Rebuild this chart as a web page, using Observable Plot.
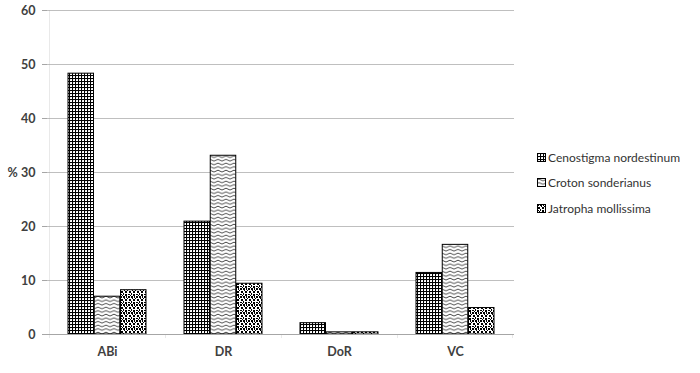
<!DOCTYPE html>
<html>
<head>
<meta charset="utf-8">
<script src="https://cdn.jsdelivr.net/npm/d3@7"></script>
<script src="https://cdn.jsdelivr.net/npm/@observablehq/plot@0.6"></script>
<style>
  body { margin: 0; background: #fff; }
  #wrap { position: relative; width: 700px; height: 373px; font-family: Lato, "Open Sans", sans-serif; }
  #legend { position: absolute; left: 537px; top: 149px; font-size: 12px; color: #333; }
  #legend .item { display: flex; align-items: center; height: 16px; margin-bottom: 9.5px; white-space: nowrap; }
  #legend svg { margin-right: 2px; }
</style>
</head>
<body>
<div id="wrap">
<svg width="0" height="0" style="position:absolute">
  <defs>
    <pattern id="p-ceno" width="3" height="3" patternUnits="userSpaceOnUse">
      <rect width="3" height="3" fill="#fff"/>
      <rect width="3" height="1" fill="#000"/>
      <rect width="1" height="3" fill="#000"/>
      <rect x="1.6" y="1.6" width="0.4" height="0.4" fill="#555"/>
    </pattern>
    <pattern id="p-croton" width="8" height="3.6" patternUnits="userSpaceOnUse">
      <rect width="8" height="3.6" fill="#fff"/>
      <path d="M0,1.9 Q2,0.2 4,1.9 T8,1.9" fill="none" stroke="#333" stroke-width="0.9"/>
    </pattern>
    <pattern id="p-jatro" width="8" height="8" patternUnits="userSpaceOnUse">
      <rect width="8" height="8" fill="#fff"/>
      <rect x="0" y="0" width="2" height="2" fill="#000"/>
      <rect x="3" y="0" width="2" height="2" fill="#000"/>
      <rect x="6" y="0" width="1" height="2" fill="#000"/>
      <rect x="1" y="3" width="2" height="2" fill="#000"/>
      <rect x="4" y="2" width="1" height="1" fill="#000"/>
      <rect x="5" y="3" width="2" height="2" fill="#000"/>
      <rect x="0" y="6" width="2" height="1" fill="#000"/>
      <rect x="3" y="5" width="1" height="2" fill="#000"/>
      <rect x="5" y="6" width="2" height="2" fill="#000"/>
      <rect x="7" y="2" width="1" height="1" fill="#000"/>
      <rect x="2" y="7" width="1" height="1" fill="#000"/>
    </pattern>
  </defs>
</svg>
<div id="chart"></div>
<div id="legend"></div>
</div>
<script>
const categories = ["ABi", "DR", "DoR", "VC"];
const species = ["Cenostigma nordestinum", "Croton sonderianus", "Jatropha mollissima"];
const cenostigma = [48.3, 20.9, 2.1, 11.4];
const croton = [7.0, 33.1, 0.4, 16.6];
const jatropha = [8.2, 9.4, 0.4, 4.9];
const yTicks = [0, 10, 20, 30, 40, 50, 60];

const seriesValues = [cenostigma, croton, jatropha];
const fills = ["url(#p-ceno)", "url(#p-croton)", "url(#p-jatro)"];

const rows = [];
species.forEach((s, si) => categories.forEach((c, ci) => rows.push({category: c, species: s, si, value: seriesValues[si][ci]})));

const W = 700, H = 373, mL = 47, mR = 186, mT = 10, mB = 39;
const bw = (W - mL - mR) / categories.length;
const groupPad = 19;
const barW = (bw - 2 * groupPad) / species.length;

const barMarks = species.map((s, si) => Plot.barY(rows.filter(r => r.si === si), {
  x: "category", y: "value",
  fill: fills[si], stroke: "#000", strokeWidth: 1,
  insetLeft: groupPad + si * barW,
  insetRight: bw - groupPad - (si + 1) * barW
}));

const axisColor = "#a6a6a6";

const chart = Plot.plot({
  width: W, height: H,
  marginLeft: mL, marginRight: mR, marginTop: mT, marginBottom: mB,
  style: {fontFamily: "Lato, 'Open Sans', sans-serif", background: "#fff"},
  x: {domain: categories, padding: 0, axis: null},
  y: {domain: [0, 60], axis: null},
  marks: [
    Plot.gridY(yTicks.filter(t => t > 0), {stroke: "#bfbfbf", strokeOpacity: 1}),
    Plot.barY([categories[0]], {x: d => d, y1: 0, y2: 60, fill: axisColor, insetRight: bw - 1}),
    Plot.barY(categories, {x: d => d, y1: 0, y2: -0.75, fill: axisColor, insetRight: bw - 1}),
    Plot.barY([categories[categories.length - 1]], {x: d => d, y1: 0, y2: -0.75, fill: axisColor, insetLeft: bw - 1}),
    ...barMarks,
    Plot.ruleY([0], {stroke: axisColor}),
    Plot.axisY({ticks: yTicks, tickSize: 5, tickPadding: 7, stroke: axisColor, label: null, fontSize: 12.5, fontWeight: "bold", fill: "#404040", color: "#404040", tickFormat: d => d}),
    Plot.axisX({tickSize: 0, tickPadding: 13, label: null, fontSize: 12.5, fontWeight: "bold", fill: "#404040", color: "#404040"}),
    Plot.text(["%"], {frameAnchor: "left", dx: -40, fontSize: 12.5, fontWeight: "bold", fill: "#404040"})
  ]
});
document.getElementById("chart").appendChild(chart);

const legend = d3.select("#legend");
species.forEach((s, si) => {
  const item = legend.append("div").attr("class", "item");
  const sw = item.append("svg").attr("width", 9).attr("height", 9);
  sw.append("rect").attr("x", 0.5).attr("y", 0.5).attr("width", 8).attr("height", 8)
    .attr("fill", fills[si]).attr("stroke", "#000").attr("stroke-width", 1);
  item.append("span").text(s);
});
</script>
</body>
</html>
